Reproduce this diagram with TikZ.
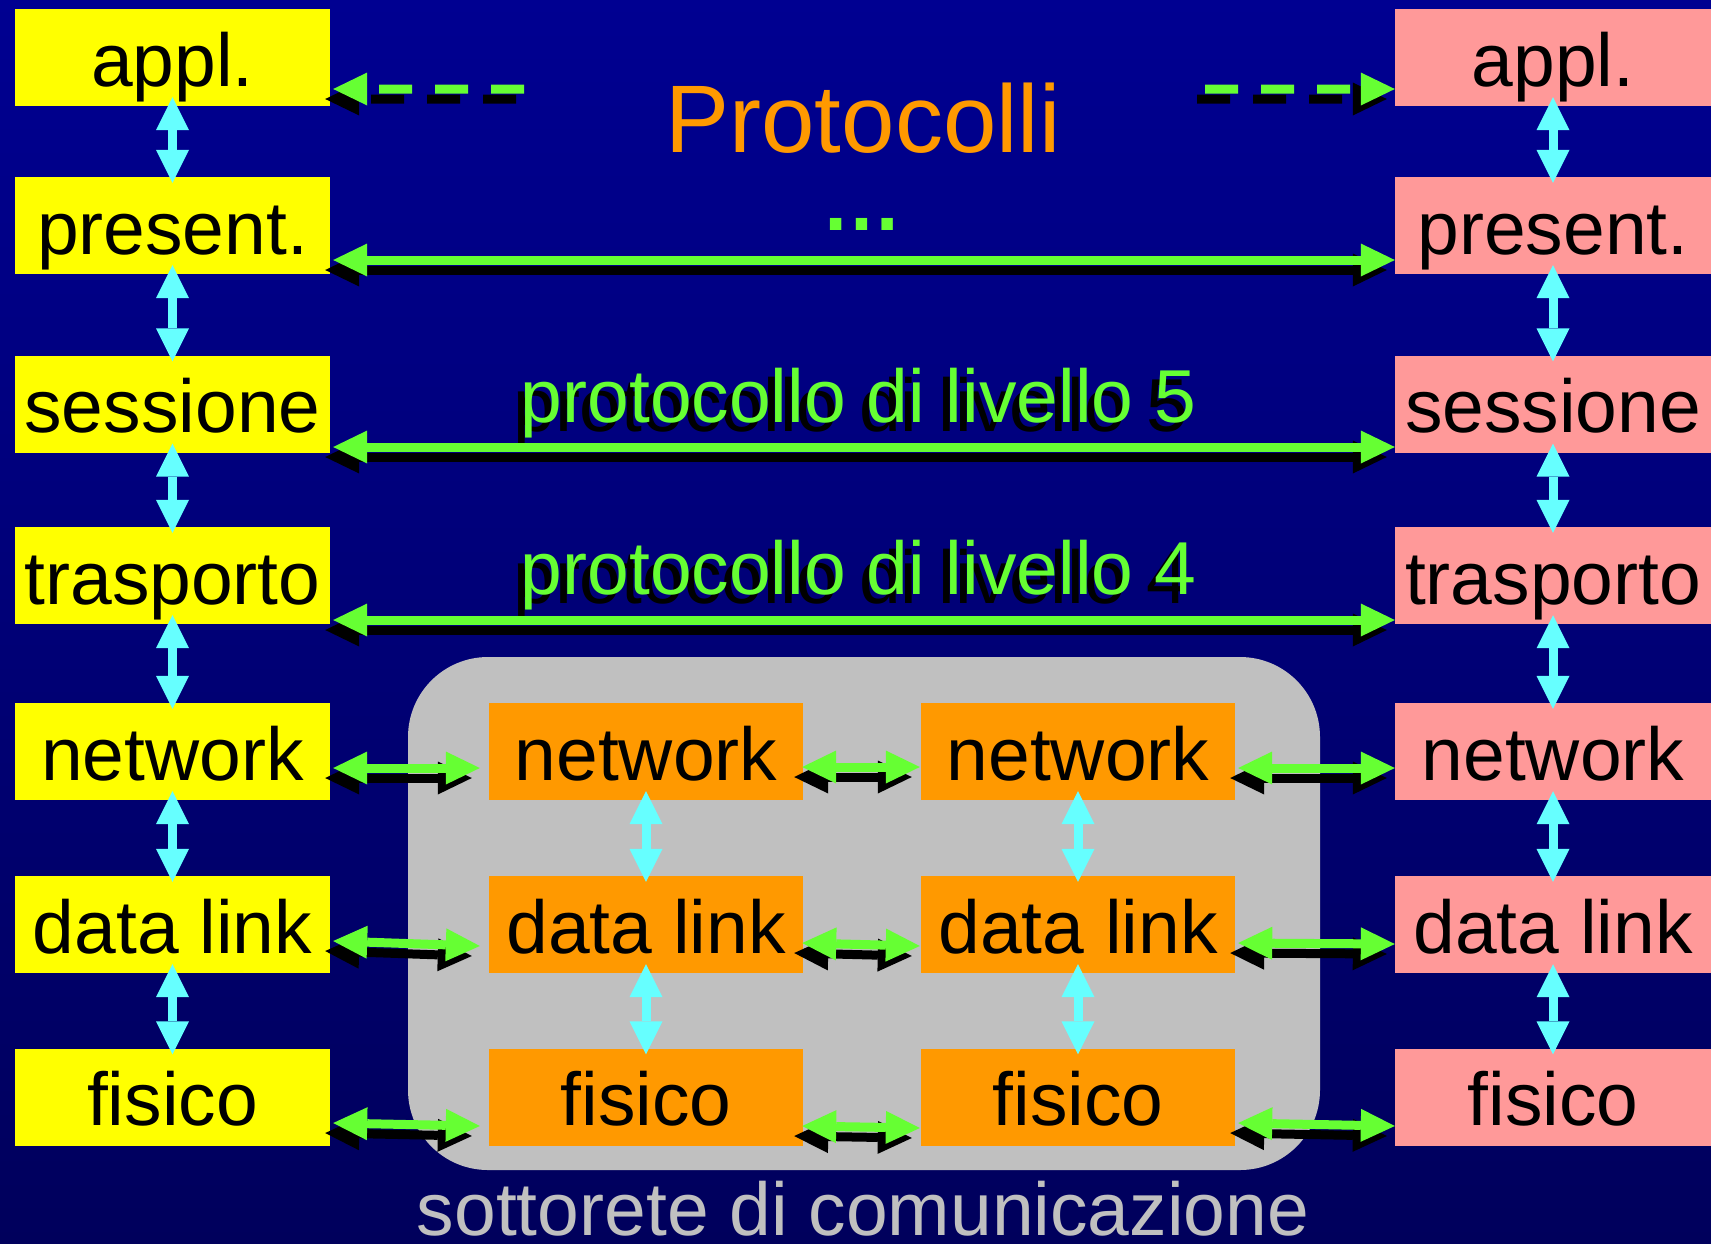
\documentclass[tikz,border=0pt]{standalone}
\usepackage{fontspec}
\setmainfont{Liberation Sans}
\usetikzlibrary{arrows.meta}
\definecolor{bgtop}{RGB}{0,0,145}
\definecolor{bgbot}{RGB}{0,0,92}
\definecolor{yel}{RGB}{255,255,0}
\definecolor{pnk}{RGB}{255,153,153}
\definecolor{org}{RGB}{255,153,0}
\definecolor{gry}{RGB}{192,192,192}
\definecolor{grn}{RGB}{102,255,51}
\definecolor{cyn}{RGB}{102,255,255}
\tikzset{
  layer/.style={inner sep=0pt, minimum width=315bp, minimum height=97bp,
    text height=57bp, text depth=0pt, font=\fontsize{75bp}{80bp}\selectfont, text=black},
  lbox/.style={layer, fill=yel},
  rbox/.style={layer, fill=pnk, minimum width=316bp},
  mbox/.style={layer, fill=org, minimum width=314bp},
  harr/.style={line width=9bp, draw=grn,
    >={Triangle[length=34bp,width=33bp,line width=0pt]}, <->},
  hshad/.style={harr, draw=black, transform canvas={shift={(-8bp,-10bp)}}},
  varr/.style={line width=9bp, draw=cyn,
    >={Triangle[length=33bp,width=33bp,line width=0pt]}, <->},
  lbl/.style={anchor=base, inner sep=0pt, font=\fontsize{75bp}{80bp}\selectfont, text=grn},
  lblshad/.style={lbl, text=black},
}
\newcommand\harrow[3][]{\draw[hshad,#1] #2 -- #3; \draw[harr,#1] #2 -- #3;}
\begin{document}
\begin{tikzpicture}[x=1bp,y=-1bp]
\useasboundingbox (0,0) rectangle (1711,1243);
\shade[top color=bgtop,bottom color=bgbot] (0,0) rectangle (1711,1243);
\fill[gry, rounded corners=80bp] (408,657) rectangle (1320,1170);

% left stack
\node[lbox] (L1) at (172.5,57.5) {appl.};
\node[lbox] (L2) at (172.5,225.5) {present.};
\node[lbox] (L3) at (172.5,404) {sessione};
\node[lbox] (L4) at (172.5,575.5) {trasporto};
\node[lbox] (L5) at (172.5,751.5) {network};
\node[lbox] (L6) at (172.5,924.5) {data link};
\node[lbox] (L7) at (172.5,1097) {fisico};
% right stack
\node[rbox] (R1) at (1553,57.5) {appl.};
\node[rbox] (R2) at (1553,225.5) {present.};
\node[rbox] (R3) at (1553,404) {sessione};
\node[rbox] (R4) at (1553,575.5) {trasporto};
\node[rbox] (R5) at (1553,751.5) {network};
\node[rbox] (R6) at (1553,924.5) {data link};
\node[rbox] (R7) at (1553,1097) {fisico};
% middle nodes
\node[mbox] (M5) at (646,751.5) {network};
\node[mbox] (M6) at (646,924.5) {data link};
\node[mbox] (M7) at (646,1097) {fisico};
\node[mbox] (N5) at (1078,751.5) {network};
\node[mbox] (N6) at (1078,924.5) {data link};
\node[mbox] (N7) at (1078,1097) {fisico};

% texts
\node[anchor=base, inner sep=0pt, font=\fontsize{96bp}{100bp}\selectfont, text=org] (title) at (863,152) {Protocolli};
\node[anchor=base, inner sep=0pt, font=\fontsize{81bp}{90bp}\selectfont\bfseries, text=grn] (dots) at (862,230) {…};
\node[lblshad] at (851,431) {protocollo di livello 5};
\node[lbl] (p5) at (858.5,422) {protocollo di livello 5};
\node[lblshad] at (851,603) {protocollo di livello 4};
\node[lbl] (p4) at (858.5,594) {protocollo di livello 4};
\node[anchor=base, inner sep=0pt, font=\fontsize{75bp}{80bp}\selectfont, text=gry] (sub) at (863,1235) {sottorete di comunicazione};

% dashed protocol arrows (appl.)
\coordinate (dl) at (524,89);
\coordinate (dr) at (1205,89);
\harrow[dash pattern=on 33bp off 23bp, ->]{(dl)}{([xshift=3bp,yshift=-31.5bp]L1.east)}
\harrow[dash pattern=on 33bp off 23bp, ->]{(dr)}{([yshift=-31.5bp]R1.west)}
% long protocol arrows
\harrow{([xshift=3bp,yshift=-34.5bp]L2.east)}{([yshift=-34.5bp]R2.west)}
\harrow{([xshift=3bp,yshift=-43bp]L3.east)}{([yshift=-43bp]R3.west)}
\harrow{([xshift=3bp,yshift=-44.5bp]L4.east)}{([yshift=-44.5bp]R4.west)}
% network row
\harrow{([xshift=3bp,yshift=-16.5bp]L5.east)}{([xshift=-9bp,yshift=-16.5bp]M5.west)}
\harrow{([xshift=-1bp,yshift=-15.5bp]M5.east)}{([xshift=-1bp,yshift=-15.5bp]N5.west)}
\harrow{([xshift=3bp,yshift=-16.5bp]N5.east)}{([yshift=-16.5bp]R5.west)}
% data link row
\harrow{([xshift=3bp,yshift=-16.5bp]L6.east)}{([xshift=-9bp,yshift=-21.5bp]M6.west)}
\harrow{([xshift=-1bp,yshift=-18.5bp]M6.east)}{([xshift=-1bp,yshift=-21.5bp]N6.west)}
\harrow{([xshift=3bp,yshift=-18.5bp]N6.east)}{([yshift=-19.5bp]R6.west)}
% fisico row
\harrow{([xshift=3bp,yshift=-26bp]L7.east)}{([xshift=-9bp,yshift=-29bp]M7.west)}
\harrow{([xshift=-1bp,yshift=-29bp]M7.east)}{([xshift=-1bp,yshift=-31bp]N7.west)}
\harrow{([xshift=3bp,yshift=-26bp]N7.east)}{([yshift=-29bp]R7.west)}

% vertical interface arrows
\foreach \a/\b in {L1/L2,L2/L3,L3/L4,L4/L5,L5/L6,L6/L7,R1/R2,R2/R3,R3/R4,R4/R5,R5/R6,R6/R7,M5/M6,M6/M7,N5/N6,N6/N7}
  \draw[varr] ([yshift=9bp]\a.south) -- ([yshift=-6bp]\b.north);
\end{tikzpicture}
\end{document}
